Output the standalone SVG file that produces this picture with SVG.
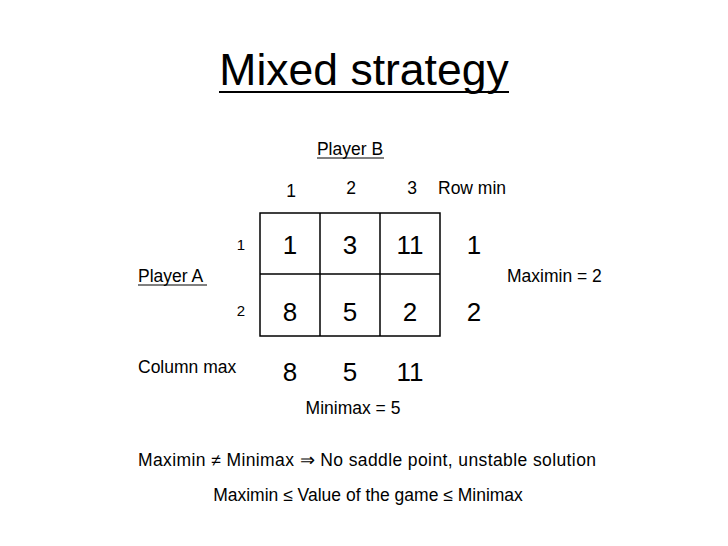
<svg xmlns="http://www.w3.org/2000/svg" width="728" height="546" viewBox="0 0 728 546">
<style>
text{font-family:"Liberation Sans",Arial,sans-serif;fill:#000}
.s{font-size:17.5px}
.r{font-size:15px;text-anchor:middle}
.b{font-size:26px;text-anchor:middle}
.c{text-anchor:middle}
.g{stroke:#000;stroke-width:1.5;fill:none}
</style>
<rect width="728" height="546" fill="#fff"/>
<g id="title"><text x="364" y="85" font-size="44.5" class="c">Mixed strategy</text><line x1="219" y1="92" x2="509" y2="92" stroke="#000" stroke-width="2"/></g>
<g id="playerB"><text x="350" y="155" class="s c">Player B</text><line x1="317" y1="158" x2="384" y2="158" stroke="#000"/></g>
<g id="cols"><text x="291" y="197" class="s c">1</text><text x="351" y="194" class="s c">2</text><text x="412" y="194" class="s c">3</text><text x="438" y="194" class="s">Row min</text></g>
<g id="grid">
<rect x="260" y="213" width="180" height="123" class="g"/>
<line x1="320" y1="213" x2="320" y2="336" class="g"/>
<line x1="380" y1="213" x2="380" y2="336" class="g"/>
<line x1="260" y1="274" x2="440" y2="274" class="g"/>
</g>
<g id="cells">
<text x="290" y="254" class="b">1</text><text x="350" y="254" class="b">3</text><text x="410" y="254" class="b">11</text><text x="474" y="254" class="b">1</text>
<text x="290" y="321" class="b">8</text><text x="350" y="321" class="b">5</text><text x="410" y="321" class="b">2</text><text x="474" y="321" class="b">2</text>
<text x="290" y="381" class="b">8</text><text x="350" y="381" class="b">5</text><text x="410" y="381" class="b">11</text>
</g>
<g id="rows"><text x="241" y="250" class="r">1</text><text x="241" y="316" class="r">2</text></g>
<g id="playerA"><text x="138" y="282" class="s">Player A</text><line x1="138" y1="285" x2="207" y2="285" stroke="#000"/></g>
<text x="507" y="282" class="s">Maximin = 2</text>
<text x="138" y="373" class="s">Column max</text>
<text x="353" y="414" class="s c">Minimax = 5</text>
<text x="138" y="466" class="s" textLength="458">Maximin ≠ Minimax ⇒ No saddle point, unstable solution</text>
<text x="368" y="501" class="s c">Maximin ≤ Value of the game ≤ Minimax</text>
</svg>
